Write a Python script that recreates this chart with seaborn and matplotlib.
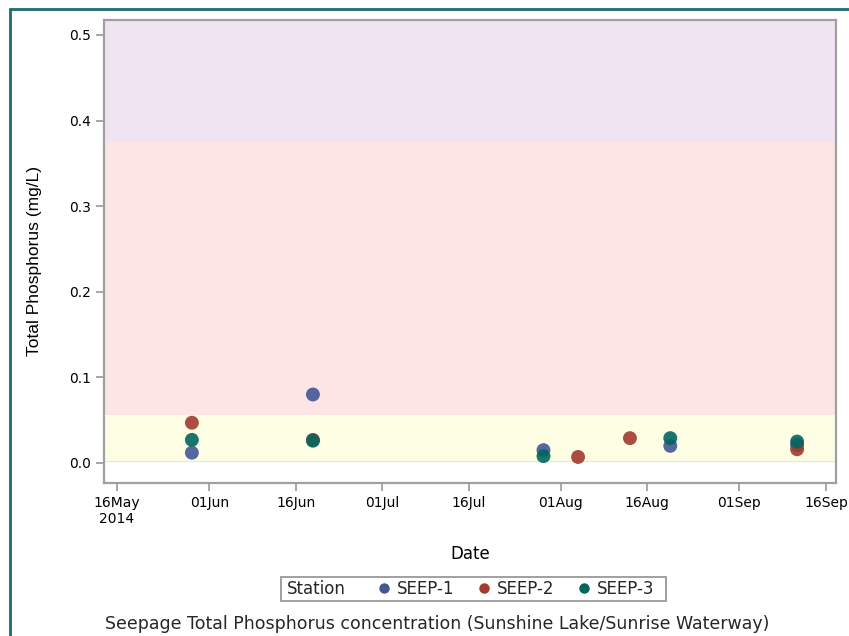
import matplotlib
matplotlib.use("Agg")
import matplotlib.pyplot as plt
from matplotlib.lines import Line2D
from matplotlib.patches import Rectangle
import pandas as pd
import seaborn as sns

# Sample dates and measured total phosphorus (mg/L) per station
seep1_dates = ["2014-05-29", "2014-06-19", "2014-07-29", "2014-08-20", "2014-09-11"]
seep1_tp = [0.012, 0.080, 0.015, 0.020, 0.021]

seep2_dates = ["2014-05-29", "2014-06-19", "2014-08-04", "2014-08-13", "2014-09-11"]
seep2_tp = [0.047, 0.027, 0.007, 0.029, 0.016]

seep3_dates = ["2014-05-29", "2014-06-19", "2014-07-29", "2014-08-20", "2014-09-11"]
seep3_tp = [0.027, 0.026, 0.008, 0.029, 0.025]

stations = ["SEEP-1", "SEEP-2", "SEEP-3"]
station_colors = ["#445694", "#A23A2E", "#01665E"]

# Trophic-state background bands (lower, upper, colour)
band_edges = [0.002, 0.056, 0.375, 0.5175]
band_colors = ["#fefee4", "#fde5e6", "#f0e4f2"]

tick_dates = ["2014-05-16", "2014-06-01", "2014-06-16", "2014-07-01", "2014-07-16",
              "2014-08-01", "2014-08-16", "2014-09-01", "2014-09-16"]
tick_labels = ["16May\n2014", "01Jun", "16Jun", "01Jul", "16Jul",
               "01Aug", "16Aug", "01Sep", "16Sep"]

frames = []
for name, d, v in zip(stations, [seep1_dates, seep2_dates, seep3_dates],
                      [seep1_tp, seep2_tp, seep3_tp]):
    frames.append(pd.DataFrame({"Date": pd.to_datetime(d), "TP": v, "Station": name}))
df = pd.concat(frames, ignore_index=True)

sns.set_theme(style="white")
plt.rcParams["font.family"] = ["DejaVu Sans"]

W, H = 849, 636
fig = plt.figure(figsize=(W / 100, H / 100), dpi=100)
ax = fig.add_axes([104 / W, 1 - 483 / H, (836 - 104) / W, (483 - 20) / H])

# outer frame
fig.patches.append(Rectangle((10 / W, -0.05), 1.0, 1 - 9 / H + 0.05,
                             transform=fig.transFigure, fill=False,
                             edgecolor="#1f6b73", linewidth=2.0, zorder=0))

ymin, ymax = -0.0234, band_edges[-1]
for lo, hi, c in zip(band_edges[:-1], band_edges[1:], band_colors):
    ax.axhspan(lo, hi, color=c, lw=0, zorder=0)
ax.axhline(0.002, color="#d8ecd8", lw=0.8, zorder=0.5)

sns.scatterplot(data=df, x="Date", y="TP", hue="Station", hue_order=stations,
                palette=station_colors, s=100, edgecolor="none", alpha=0.9,
                legend=False, ax=ax, zorder=3)

ax.set_xlim(pd.Timestamp("2014-05-13 18:00"), pd.Timestamp("2014-09-17 18:00"))
ax.set_ylim(ymin, ymax)
ax.set_xticks(pd.to_datetime(tick_dates))
ax.set_xticklabels(tick_labels)
ax.set_yticks([0.0, 0.1, 0.2, 0.3, 0.4, 0.5])
ax.set_yticklabels(["0.0", "0.1", "0.2", "0.3", "0.4", "0.5"])

for s in ax.spines.values():
    s.set_color("#a0a0a0")
    s.set_linewidth(1.6)
ax.tick_params(axis="both", direction="out", length=6, width=1.3, color="#a0a0a0",
               labelsize=10, labelcolor="black", pad=3)
ax.tick_params(axis="both", which="both", bottom=True, left=True)

ax.set_xlabel("Date", fontsize=12, labelpad=14, color="black")
ax.set_ylabel("Total Phosphorus (mg/L)", fontsize=12.5,
              family=["Liberation Sans"], color="black")
ax.yaxis.set_label_coords(-0.085, 0.48)

# legend bar below the axes
legend_frame = Rectangle((281 / W, 1 - 601 / H), (666 - 281) / W, 24 / H,
                         transform=fig.transFigure, fill=False,
                         edgecolor="#a0a0a0", linewidth=1.4)
fig.patches.append(legend_frame)
fig.text(287 / W, 1 - 589 / H, "Station", ha="left", va="center", fontsize=12)
handles = [Line2D([], [], linestyle="none", marker="o", markersize=7.5,
                  markerfacecolor=c, markeredgecolor="none", label=n)
           for n, c in zip(stations, station_colors)]
fig.legend(handles=handles, loc="center", ncol=3,
           bbox_to_anchor=(516 / W, 1 - 589 / H), frameon=False,
           fontsize=12, handletextpad=0.35, columnspacing=1.4,
           borderpad=0.1, handlelength=0.8)

fig.text(437 / W, 1 - 624 / H,
         "Seepage Total Phosphorus concentration (Sunshine Lake/Sunrise Waterway)",
         ha="center", va="center", fontsize=12.5)

fig.savefig("out.png", dpi=100)
